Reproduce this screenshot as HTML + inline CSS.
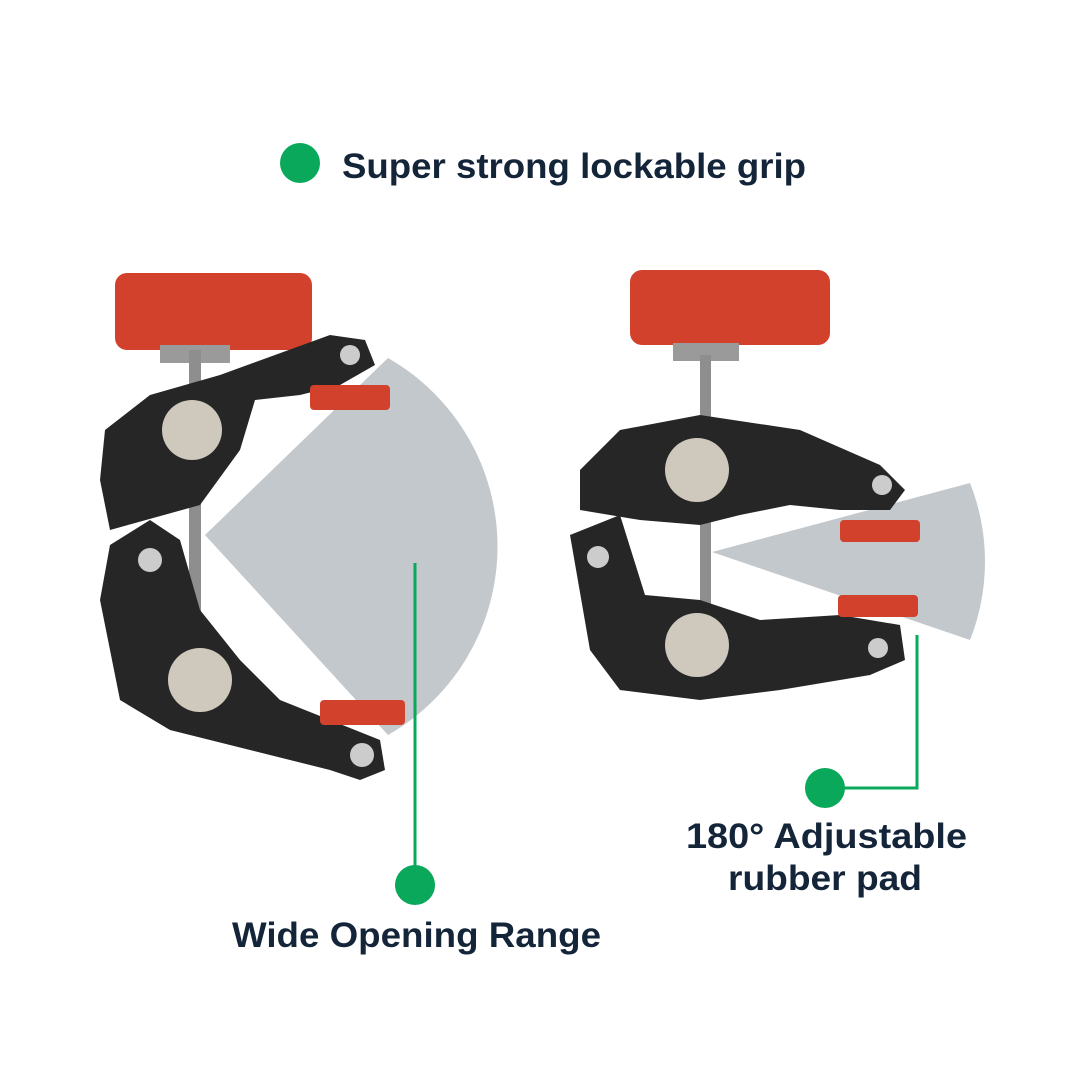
<!DOCTYPE html>
<html><head><meta charset="utf-8"><style>
html,body{margin:0;padding:0;background:#fff;}
svg{display:block;}
text{font-family:"Liberation Sans",sans-serif;font-weight:bold;fill:#14253a;}
</style></head><body>
<svg width="1080" height="1080" viewBox="0 0 1080 1080" xmlns="http://www.w3.org/2000/svg">
<rect width="1080" height="1080" fill="#fff"/>
<circle cx="300" cy="163" r="20" fill="#0aa85a"/>
<text x="342" y="178" font-size="35" textLength="464" lengthAdjust="spacingAndGlyphs">Super strong lockable grip</text>

<!-- left wedge -->
<path d="M205 535 L388 358 A217 217 0 0 1 388 735 Z" fill="#c3c8cc"/>
<!-- left clamp -->
<rect x="115" y="273" width="197" height="77" rx="12" fill="#d2412c"/>
<rect x="160" y="345" width="70" height="18" fill="#9a9a9a"/>
<rect x="189" y="350" width="12" height="290" fill="#8e8e8e"/>
<polygon points="105,430 150,395 220,375 330,335 365,340 375,365 340,385 300,395 255,400 240,450 200,505 110,530 100,480" fill="#262626"/>
<polygon points="110,545 150,520 180,540 200,610 240,660 280,700 330,720 380,740 385,770 360,780 330,770 250,750 170,730 120,700 100,600" fill="#262626"/>
<rect x="310" y="385" width="80" height="25" rx="4" fill="#d2412c"/>
<rect x="320" y="700" width="85" height="25" rx="4" fill="#d2412c"/>
<circle cx="192" cy="430" r="30" fill="#cfc8bd"/>
<circle cx="200" cy="680" r="32" fill="#cfc8bd"/>
<circle cx="350" cy="355" r="10" fill="#ccc"/>
<circle cx="150" cy="560" r="12" fill="#ccc"/>
<circle cx="362" cy="755" r="12" fill="#ccc"/>
<line x1="415" y1="563" x2="415" y2="885" stroke="#0aa85a" stroke-width="3"/>
<circle cx="415" cy="885" r="20" fill="#0aa85a"/>
<text x="232" y="947" font-size="35" textLength="369" lengthAdjust="spacingAndGlyphs">Wide Opening Range</text>

<!-- right wedge -->
<path d="M712 552 L970 483 A213 213 0 0 1 970 640 Z" fill="#c3c8cc"/>
<!-- right clamp -->
<rect x="630" y="270" width="200" height="75" rx="12" fill="#d2412c"/>
<rect x="673" y="343" width="66" height="18" fill="#9a9a9a"/>
<rect x="700" y="355" width="11" height="65" fill="#8e8e8e"/>
<rect x="700" y="520" width="11" height="120" fill="#8e8e8e"/>
<polygon points="580,470 620,430 700,415 800,430 880,465 905,490 890,510 840,510 790,505 740,515 700,525 640,520 580,510" fill="#262626"/>
<polygon points="570,535 620,515 645,595 700,600 760,620 840,615 900,625 905,660 870,675 780,690 700,700 620,690 590,650" fill="#262626"/>
<rect x="840" y="520" width="80" height="22" rx="4" fill="#d2412c"/>
<rect x="838" y="595" width="80" height="22" rx="4" fill="#d2412c"/>
<circle cx="697" cy="470" r="32" fill="#cfc8bd"/>
<circle cx="697" cy="645" r="32" fill="#cfc8bd"/>
<circle cx="882" cy="485" r="10" fill="#ccc"/>
<circle cx="598" cy="557" r="11" fill="#ccc"/>
<circle cx="878" cy="648" r="10" fill="#ccc"/>
<polyline points="917,635 917,788 825,788" fill="none" stroke="#0aa85a" stroke-width="3"/>
<circle cx="825" cy="788" r="20" fill="#0aa85a"/>
<text x="686" y="848" font-size="35" textLength="281" lengthAdjust="spacingAndGlyphs">180° Adjustable</text>
<text x="728" y="890" font-size="35" textLength="194" lengthAdjust="spacingAndGlyphs">rubber pad</text>
</svg>
</body></html>
